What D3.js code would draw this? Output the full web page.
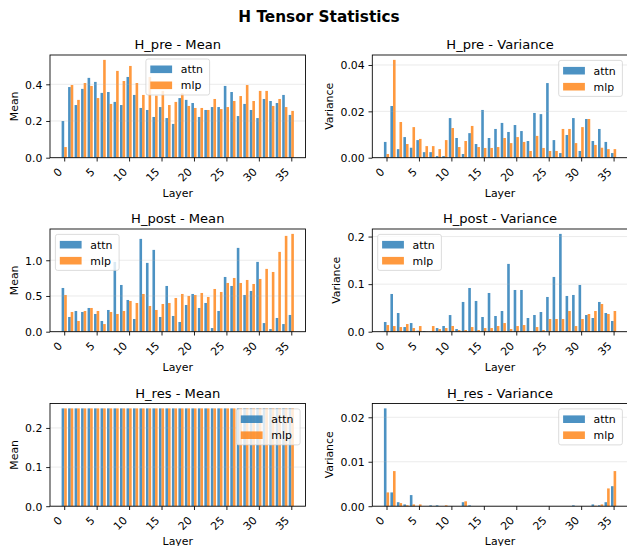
<!DOCTYPE html>
<html>
<head>
<meta charset="utf-8">
<script src="https://cdn.jsdelivr.net/npm/d3@7/dist/d3.min.js"></script>
<style>
  body { margin: 0; background: #fff; }
  svg { display: block; font-family: "DejaVu Sans", sans-serif; }
</style>
</head>
<body>
<svg id="chart" width="627" height="546"></svg>
<script>
const layers = [0,1,2,3,4,5,6,7,8,9,10,11,12,13,14,15,16,17,18,19,20,21,22,23,24,25,26,27,28,29,30,31,32,33,34,35];
const xTicks = [0,5,10,15,20,25,30,35];
const seriesNames = ['attn', 'mlp'];

const hPreMeanAttn = [0.200,0.385,0.287,0.375,0.435,0.413,0.353,0.358,0.304,0.287,0.440,0.342,0.271,0.260,0.222,0.276,0.216,0.184,0.325,0.315,0.298,0.222,0.260,0.276,0.276,0.391,0.358,0.227,0.293,0.260,0.216,0.320,0.309,0.298,0.342,0.233];
const hPreMeanMlp  = [0.058,0.396,0.315,0.407,0.391,0.325,0.533,0.293,0.473,0.418,0.500,0.407,0.342,0.440,0.338,0.364,0.287,0.304,0.351,0.282,0.271,0.271,0.260,0.320,0.265,0.276,0.309,0.336,0.396,0.309,0.364,0.364,0.282,0.320,0.276,0.255];

const hPreVarAttn = [0.0068,0.0223,0.0037,0.0089,0.0043,0.0076,0.0024,0.0024,0.0007,0.0007,0.0171,0.0085,0.0016,0.0106,0.0059,0.0206,0.0085,0.0124,0.0150,0.0111,0.0141,0.0115,0.0072,0.0193,0.0188,0.0322,0.0076,0.0020,0.0098,0.0171,0.0029,0.0167,0.0072,0.0124,0.0068,0.0020];
const hPreVarMlp  = [0.0016,0.0422,0.0154,0.0059,0.0132,0.0081,0.0050,0.0050,0.0037,0.0076,0.0128,0.0046,0.0072,0.0137,0.0046,0.0042,0.0042,0.0046,0.0085,0.0063,0.0089,0.0068,0.0029,0.0094,0.0042,0.0029,0.0029,0.0124,0.0124,0.0063,0.0132,0.0167,0.0055,0.0043,0.0037,0.0037];

const hPostMeanAttn = [0.612,0.206,0.290,0.276,0.332,0.248,0.150,0.304,0.977,0.654,0.444,0.178,1.299,0.963,1.145,0.206,0.640,0.220,0.136,0.374,0.528,0.332,0.402,0.051,0.290,0.766,0.640,1.173,0.514,0.570,0.977,0.121,0.037,0.192,0.107,0.234];
const hPostMeanMlp  = [0.514,0.276,0.150,0.290,0.332,0.290,0.107,0.276,0.248,0.290,0.430,0.402,0.528,0.360,0.304,0.388,0.402,0.472,0.528,0.500,0.514,0.542,0.486,0.598,0.556,0.682,0.752,0.682,0.724,0.668,0.738,0.879,0.836,1.117,1.341,1.369];

const hPostVarAttn = [0.0204,0.0793,0.0393,0.0098,0.0182,0.0020,0.0014,0.0003,0.0077,0.0120,0.0350,0.0056,0.0625,0.0919,0.0646,0.0309,0.0814,0.0330,0.0435,0.1425,0.0877,0.0877,0.0288,0.0351,0.0414,0.0730,0.1151,0.2056,0.0751,0.0772,0.0982,0.0351,0.0288,0.0625,0.0393,0.0225];
const hPostVarMlp  = [0.0140,0.0119,0.0098,0.0161,0.0077,0.0119,0.0005,0.0119,0.0056,0.0077,0.0120,0.0035,0.0035,0.0098,0.0035,0.0077,0.0077,0.0119,0.0182,0.0056,0.0119,0.0140,0.0014,0.0098,0.0035,0.0267,0.0267,0.0267,0.0435,0.0119,0.0267,0.0372,0.0435,0.0582,0.0372,0.0435];

const hResMeanAttn = [0.25,0.25,0.25,0.25,0.25,0.25,0.25,0.25,0.25,0.25,0.25,0.25,0.25,0.25,0.25,0.25,0.25,0.25,0.25,0.25,0.25,0.25,0.25,0.25,0.25,0.25,0.25,0.25,0.25,0.25,0.25,0.25,0.25,0.25,0.25,0.25];
const hResMeanMlp  = [0.25,0.25,0.25,0.25,0.25,0.25,0.25,0.25,0.25,0.25,0.25,0.25,0.25,0.25,0.25,0.25,0.25,0.25,0.25,0.25,0.25,0.25,0.25,0.25,0.25,0.25,0.25,0.25,0.25,0.25,0.25,0.25,0.25,0.25,0.25,0.25];

const hResVarAttn = [0.0220,0.0031,0.0009,0.0004,0.0025,0.0000,0.0000,0.0002,0.0002,0.0000,0.0000,0.0000,0.0009,0.0002,0.0000,0.0000,0.0000,0.0000,0.0000,0.0000,0.0000,0.0000,0.0000,0.0000,0.0000,0.0000,0.0000,0.0000,0.0000,0.0002,0.0000,0.0000,0.0004,0.0002,0.0009,0.0045];
const hResVarMlp  = [0.0031,0.0079,0.0007,0.0002,0.0004,0.0004,0.0000,0.0000,0.0000,0.0002,0.0000,0.0000,0.0011,0.0000,0.0000,0.0000,0.0000,0.0000,0.0000,0.0000,0.0000,0.0000,0.0000,0.0000,0.0000,0.0000,0.0000,0.0000,0.0000,0.0000,0.0000,0.0000,0.0001,0.0004,0.0040,0.0079];

const meanTicksPre = [0, 0.2, 0.4],     meanLabelsPre = ['0.0', '0.2', '0.4'];
const varTicksPre = [0, 0.02, 0.04],    varLabelsPre = ['0.00', '0.02', '0.04'];
const meanTicksPost = [0, 0.5, 1.0],    meanLabelsPost = ['0.0', '0.5', '1.0'];
const varTicksPost = [0, 0.1, 0.2],     varLabelsPost = ['0.0', '0.1', '0.2'];
const meanTicksRes = [0, 0.1, 0.2],     meanLabelsRes = ['0.0', '0.1', '0.2'];
const varTicksRes = [0, 0.01, 0.02],    varLabelsRes = ['0.00', '0.01', '0.02'];

const colors = ['#1f77b4', '#ff7f0e'];
const FS = 10.9;

const panels = [
  {title: 'H_pre - Mean', ylabel: 'Mean', attn: hPreMeanAttn, mlp: hPreMeanMlp, ticks: meanTicksPre, labels: meanLabelsPre, legend: 'upper center'},
  {title: 'H_pre - Variance', ylabel: 'Variance', attn: hPreVarAttn, mlp: hPreVarMlp, ticks: varTicksPre, labels: varLabelsPre, legend: 'upper right'},
  {title: 'H_post - Mean', ylabel: 'Mean', attn: hPostMeanAttn, mlp: hPostMeanMlp, ticks: meanTicksPost, labels: meanLabelsPost, legend: 'upper left'},
  {title: 'H_post - Variance', ylabel: 'Variance', attn: hPostVarAttn, mlp: hPostVarMlp, ticks: varTicksPost, labels: varLabelsPost, legend: 'upper left'},
  {title: 'H_res - Mean', ylabel: 'Mean', attn: hResMeanAttn, mlp: hResMeanMlp, ticks: meanTicksRes, labels: meanLabelsRes, legend: 'upper right'},
  {title: 'H_res - Variance', ylabel: 'Variance', attn: hResVarAttn, mlp: hResVarMlp, ticks: varTicksRes, labels: varLabelsRes, legend: 'upper right'}
];

const chart = d3.select('#chart');
const colLeft = [50, 372.3];
const colWidth = 255.5;
const rowTop = [55, 229, 403.5];
const rowHeight = 102.7;

chart.append('text')
  .attr('x', 319).attr('y', 21.5)
  .attr('text-anchor', 'middle')
  .attr('font-size', 15.3).attr('font-weight', 'bold')
  .text('H Tensor Statistics');

panels.forEach((p, k) => {
  const left = colLeft[k % 2];
  const top = rowTop[Math.floor(k / 2)];
  const right = left + colWidth;
  const bottom = top + rowHeight;

  // matplotlib-ish 5% margins around the bar extent
  const margin = 0.05 * (layers.length - 1 + 0.8);
  const x = d3.scaleLinear()
    .domain([layers[0] - 0.4 - margin, layers[layers.length - 1] + 0.4 + margin])
    .range([left, right]);
  const yMax = d3.max(p.attn.concat(p.mlp)) * 1.05;
  const y = d3.scaleLinear().domain([0, yMax]).range([bottom, top]);
  const bw = x(0.4) - x(0);

  const g = chart.append('g');

  [p.attn, p.mlp].forEach((vals, s) => {
    g.append('g').selectAll('rect').data(vals).join('rect')
      .attr('x', (d, i) => x(layers[i] + (s === 0 ? -0.4 : 0)))
      .attr('width', bw)
      .attr('y', d => y(d))
      .attr('height', d => y(0) - y(d))
      .attr('fill', colors[s])
      .attr('fill-opacity', 0.8);
  });

  // horizontal grid, drawn over the bars like matplotlib does
  g.append('g').selectAll('line').data(p.ticks).join('line')
    .attr('x1', left).attr('x2', right)
    .attr('y1', d => y(d)).attr('y2', d => y(d))
    .attr('stroke', '#b0b0b0').attr('stroke-opacity', 0.3).attr('stroke-width', 0.87);

  const yAxis = g.append('g')
    .attr('transform', `translate(${left},0)`)
    .call(d3.axisLeft(y).tickValues(p.ticks).tickFormat((d, i) => p.labels[i]).tickSize(3.8).tickPadding(3.8));
  yAxis.select('.domain').remove();
  yAxis.selectAll('line').attr('stroke', '#000').attr('stroke-width', 0.87);
  yAxis.selectAll('text').attr('font-size', FS).attr('font-family', 'DejaVu Sans').attr('fill', '#000').attr('dy', '0.35em');

  const xAxis = g.append('g')
    .attr('transform', `translate(0,${bottom})`)
    .call(d3.axisBottom(x).tickValues(xTicks).tickSize(3.8));
  xAxis.select('.domain').remove();
  xAxis.selectAll('line').attr('stroke', '#000').attr('stroke-width', 0.87);
  xAxis.selectAll('text')
    .attr('font-size', FS).attr('font-family', 'DejaVu Sans').attr('fill', '#000')
    .attr('x', -4.5).attr('y', 12.1).attr('dy', '0.35em')
    .attr('text-anchor', 'end')
    .attr('transform', 'rotate(-45,-4.5,12.1)');

  g.append('rect')
    .attr('x', left).attr('y', top)
    .attr('width', colWidth).attr('height', rowHeight)
    .attr('fill', 'none').attr('stroke', '#000').attr('stroke-width', 0.87);

  g.append('text')
    .attr('x', (left + right) / 2).attr('y', top - 6)
    .attr('text-anchor', 'middle').attr('font-size', 13.1)
    .text(p.title);

  g.append('text')
    .attr('x', (left + right) / 2).attr('y', bottom + 39)
    .attr('text-anchor', 'middle').attr('font-size', FS)
    .text('Layer');

  const bb = yAxis.node().getBBox();
  const yl = left + bb.x - 4.4 - 2.6;
  g.append('text')
    .attr('transform', `translate(${yl},${(top + bottom) / 2}) rotate(-90)`)
    .attr('text-anchor', 'middle').attr('font-size', FS)
    .text(p.ylabel);

  // legend
  const lw = 63.7, lh = 36;
  let lx, ly = top + 5.4;
  if (p.legend === 'upper left') lx = left + 5.4;
  else if (p.legend === 'upper right') lx = right - 5.4 - lw;
  else { lx = (left + right) / 2 - lw / 2; ly = top + 4; }
  const lg = g.append('g').attr('transform', `translate(${lx},${ly})`);
  lg.append('rect')
    .attr('width', lw).attr('height', lh).attr('rx', 2.2)
    .attr('fill', '#fff').attr('fill-opacity', 0.8)
    .attr('stroke', '#cccccc').attr('stroke-opacity', 0.8).attr('stroke-width', 0.87);
  seriesNames.forEach((name, s) => {
    const cy = 10.3 + s * 16;
    lg.append('rect')
      .attr('x', 4.4).attr('y', cy - 3.8)
      .attr('width', 21.8).attr('height', 7.6)
      .attr('fill', colors[s]).attr('fill-opacity', 0.8);
    lg.append('text')
      .attr('x', 34.9).attr('y', cy).attr('dy', '0.35em')
      .attr('font-size', FS)
      .text(name);
  });
});
</script>
</body>
</html>
